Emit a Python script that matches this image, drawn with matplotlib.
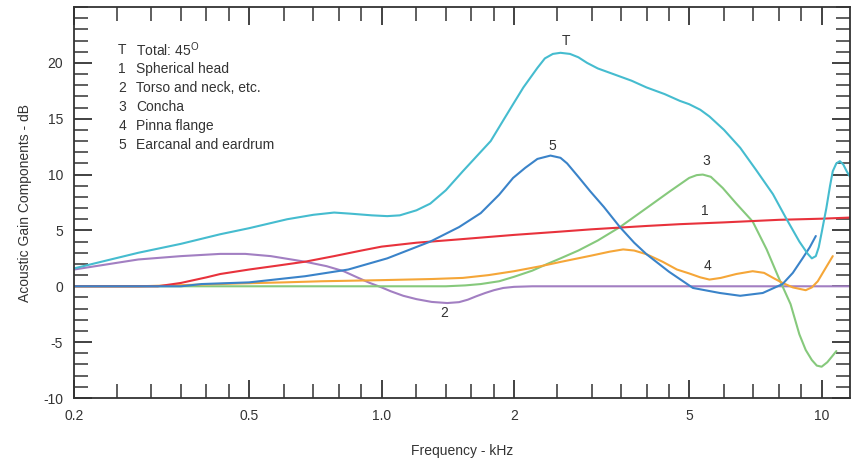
"""Acoustic gain components of the external ear vs frequency (45 deg incidence)."""
import matplotlib
matplotlib.use("Agg")
import matplotlib.pyplot as plt
from matplotlib.ticker import FixedLocator, FixedFormatter, MultipleLocator

plt.rcParams["font.family"] = ["Liberation Sans", "DejaVu Sans"]
plt.rcParams["mathtext.fontset"] = "custom"
plt.rcParams["mathtext.rm"] = "Liberation Sans"
plt.rcParams["axes.unicode_minus"] = False

# values (kHz, dB)
total_f = [0.2, 0.28, 0.35, 0.43, 0.5, 0.61, 0.7, 0.78, 0.85, 0.95, 1.03, 1.1, 1.2, 1.29, 1.4,
           1.53, 1.65, 1.77, 1.9, 1.99, 2.1, 2.26, 2.35, 2.45, 2.55, 2.68, 2.8, 2.93, 3.1, 3.36,
           3.7, 4.0, 4.4, 4.76, 5.0, 5.3, 5.56, 6.0, 6.53, 7.1, 7.75, 8.3, 8.9, 9.3, 9.5, 9.7,
           9.85, 10.0, 10.25, 10.45, 10.6, 10.8, 11.0, 11.2, 11.4, 11.6]
total_db = [1.6, 3.0, 3.8, 4.66, 5.2, 6.0, 6.4, 6.6, 6.5, 6.35, 6.28, 6.35, 6.8, 7.4, 8.6,
            10.3, 11.7, 13.0, 15.0, 16.3, 17.8, 19.55, 20.4, 20.8, 20.9, 20.8, 20.5, 20.0, 19.5, 19.0,
            18.4, 17.8, 17.2, 16.6, 16.3, 15.8, 15.2, 14.0, 12.4, 10.4, 8.25, 6.1, 4.0, 2.9, 2.5, 2.7,
            3.5, 4.8, 7.0, 9.0, 10.3, 11.0, 11.2, 10.9, 10.3, 9.8]

head_f = [0.2, 0.31, 0.35, 0.4, 0.43, 0.5, 0.58, 0.67, 0.78, 0.9, 1.0, 1.2, 1.5, 2.0, 2.5,
          3.0, 4.0, 4.76, 6.0, 8.0, 10.0, 11.6]
head_db = [0.0, 0.0, 0.3, 0.8, 1.1, 1.5, 1.85, 2.2, 2.7, 3.2, 3.55, 3.9, 4.2, 4.6, 4.87,
           5.1, 5.4, 5.56, 5.72, 5.95, 6.05, 6.15]

torso_f = [0.2, 0.28, 0.35, 0.43, 0.49, 0.56, 0.67, 0.75, 0.82, 0.88, 0.94, 1.0, 1.05, 1.12,
           1.2, 1.3, 1.41, 1.5, 1.57, 1.64, 1.72, 1.8, 1.89, 2.0, 2.2, 11.6]
torso_db = [1.5, 2.4, 2.7, 2.9, 2.9, 2.7, 2.2, 1.8, 1.35, 0.8, 0.3, -0.1, -0.45, -0.85,
            -1.15, -1.4, -1.5, -1.42, -1.2, -0.9, -0.6, -0.35, -0.15, -0.05, 0.0, 0.0]

concha_f = [0.2, 1.4, 1.55, 1.68, 1.85, 2.0, 2.2, 2.38, 2.55, 2.8, 3.1, 3.48, 4.0, 4.52, 5.0,
            5.2, 5.37, 5.6, 5.96, 6.4, 6.97, 7.5, 8.0, 8.5, 8.9, 9.2, 9.5, 9.75, 10.0, 10.3,
            10.6, 10.8]
concha_db = [0.0, 0.0, 0.08, 0.2, 0.45, 0.85, 1.4, 2.0, 2.5, 3.2, 4.1, 5.3, 7.0, 8.5, 9.7,
             9.95, 10.0, 9.8, 8.8, 7.4, 5.8, 3.3, 0.7, -1.6, -4.3, -5.7, -6.6, -7.1, -7.2, -6.8,
             -6.2, -5.8]

pinna_f = [0.2, 0.28, 0.35, 0.47, 0.6, 0.73, 1.0, 1.3, 1.53, 1.75, 2.0, 2.3, 2.55, 3.0, 3.3,
           3.54, 3.75, 4.0, 4.35, 4.69, 5.0, 5.3, 5.56, 5.9, 6.4, 6.97, 7.4, 7.8, 8.15, 8.6,
           9.2, 9.5, 9.8, 10.2, 10.6]
pinna_db = [0.0, 0.0, 0.1, 0.25, 0.35, 0.45, 0.55, 0.65, 0.75, 1.0, 1.35, 1.8, 2.18, 2.75, 3.1,
            3.3, 3.2, 2.87, 2.2, 1.5, 1.15, 0.8, 0.6, 0.75, 1.1, 1.35, 1.2, 0.7, 0.3, -0.1,
            -0.35, -0.1, 0.45, 1.6, 2.7]

canal_f = [0.2, 0.35, 0.39, 0.5, 0.67, 0.84, 1.03, 1.29, 1.5, 1.68, 1.85, 1.99, 2.12, 2.26,
           2.42, 2.55, 2.64, 2.8, 2.98, 3.2, 3.48, 3.75, 4.0, 4.5, 5.1, 5.87, 6.53, 7.35, 8.15,
           8.6, 9.05, 9.4, 9.7]
canal_db = [0.0, 0.0, 0.2, 0.35, 0.9, 1.5, 2.5, 4.0, 5.3, 6.55, 8.2, 9.7, 10.6, 11.4,
            11.7, 11.5, 11.0, 9.8, 8.5, 7.1, 5.3, 3.9, 2.87, 1.3, -0.15, -0.6, -0.85, -0.6, 0.2,
            1.2, 2.5, 3.5, 4.5]

series = [
    ("T", total_f, total_db, "#45bccf"),
    ("1", head_f, head_db, "#e8323c"),
    ("2", torso_f, torso_db, "#a27fc2"),
    ("3", concha_f, concha_db, "#86c97c"),
    ("4", pinna_f, pinna_db, "#f5a638"),
    ("5", canal_f, canal_db, "#3a83c9"),
]
draw_order = ["2", "3", "4", "1", "5", "T"]

legend_keys = ["T", "1", "2", "3", "4", "5"]
legend_names = [r"Total: 45$^\mathrm{O}$", "Spherical head", "Torso and neck, etc.",
                "Concha", "Pinna flange", "Earcanal and eardrum"]

# curve tags: key, x (kHz), y (dB)
tag_keys = ["T", "5", "3", "1", "4", "2"]
tag_x = [2.62, 2.44, 5.46, 5.43, 5.5, 1.39]
tag_y = [22.0, 12.55, 11.2, 6.7, 1.8, -2.4]

major_x = [0.2, 0.5, 1.0, 2.0, 5.0, 10.0]
major_x_labels = ["0.2", "0.5", "1.0", "2", "5", "10"]
minor_x = [0.25, 0.3, 0.35, 0.4, 0.45, 0.6, 0.7, 0.8, 0.9, 1.2, 1.4, 1.6, 1.8,
           2.5, 3.0, 3.5, 4.0, 4.5, 6.0, 7.0, 8.0, 9.0]


def main():
    fig = plt.figure(figsize=(8.51, 4.61), dpi=100)
    ax = fig.add_axes([74 / 851, 63 / 461, 776 / 851, 391 / 461])

    by_key = {s[0]: s for s in series}
    for key in draw_order:
        _, f, db, color = by_key[key]
        ax.plot(f, db, color=color, lw=1.5, solid_capstyle="round", solid_joinstyle="round")

    ax.set_xscale("log")
    ax.set_xlim(0.2, 11.6)
    ax.set_ylim(-10, 25)
    ax.xaxis.set_major_locator(FixedLocator(major_x))
    ax.xaxis.set_major_formatter(FixedFormatter(major_x_labels))
    ax.xaxis.set_minor_locator(FixedLocator(minor_x))
    ax.xaxis.set_minor_formatter(FixedFormatter([]))
    ax.yaxis.set_major_locator(FixedLocator([-10, -5, 0, 5, 10, 15, 20]))
    ax.yaxis.set_minor_locator(MultipleLocator(1))

    ax.tick_params(which="both", direction="in", top=True, right=True, labelsize=10,
                   color="#333333", labelcolor="#333333", pad=8)
    ax.tick_params(which="major", length=13, width=1.3)
    ax.tick_params(which="minor", length=10, width=1.1)
    for sp in ax.spines.values():
        sp.set_linewidth(1.3)
        sp.set_color("#333333")

    ax.set_xlabel("Frequency - kHz", fontsize=10, color="#333333", labelpad=15)
    ax.set_ylabel("Acoustic Gain Components - dB", fontsize=10, color="#333333", labelpad=8)

    for i, (k, name) in enumerate(zip(legend_keys, legend_names)):
        yy = 0.89 - i * 0.0485
        ax.text(0.057, yy, k, transform=ax.transAxes, fontsize=10, color="#333333", va="center")
        ax.text(0.080, yy, name, transform=ax.transAxes, fontsize=10, color="#333333", va="center")

    for k, x, y in zip(tag_keys, tag_x, tag_y):
        ax.text(x, y, k, fontsize=10, color="#333333", ha="center", va="center")

    fig.savefig("out.png", dpi=100)
    plt.close(fig)


if __name__ == "__main__":
    main()
